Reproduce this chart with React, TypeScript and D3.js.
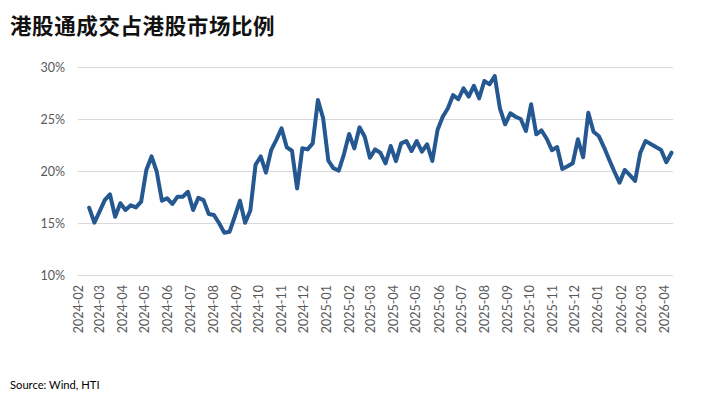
import React, { useRef, useEffect } from 'react';
import * as d3 from 'd3';

// weekly share of southbound turnover in HK market turnover (%)
const startDate = '2024-02-16';
const shareValues = [
  16.47, 15.03, 16.1, 17.2, 17.76, 15.6, 16.9, 16.25, 16.7, 16.5,
  17.05, 20.1, 21.4, 19.93, 17.14, 17.37, 16.83, 17.53, 17.53, 18.0,
  16.25, 17.43, 17.2, 15.87, 15.77, 14.97, 14.07, 14.16, 15.6, 17.14,
  15.03, 16.2, 20.6, 21.4, 19.84, 22.0, 23.0, 24.1, 22.28, 21.95,
  18.33, 22.18, 22.08, 22.66, 26.83, 25.07, 21.0, 20.26, 20.03, 21.6,
  23.56, 22.18, 24.2, 23.3, 21.28, 22.08, 21.76, 20.74, 22.4, 20.95,
  22.66, 22.88, 21.92, 22.88, 21.86, 22.57, 20.96, 23.94, 25.22, 26.03,
  27.3, 26.9, 27.95, 27.15, 28.2, 26.99, 28.65, 28.33, 29.13, 26.03,
  24.49, 25.55, 25.22, 25.0, 23.85, 26.41, 23.53, 23.9, 23.1, 22.0,
  22.3, 20.2, 20.45, 20.74, 23.05, 21.32, 25.6, 23.78, 23.37, 22.3,
  21.1, 19.95, 18.88, 20.1, 19.6, 19.04, 21.76, 22.88, 22.6, 22.3,
  22.02, 20.84, 21.76,
];
const yTicks = [10, 15, 20, 25, 30];
const monthTicks = [
  '2024-02', '2024-03', '2024-04', '2024-05', '2024-06', '2024-07', '2024-08',
  '2024-09', '2024-10', '2024-11', '2024-12', '2025-01', '2025-02', '2025-03',
  '2025-04', '2025-05', '2025-06', '2025-07', '2025-08', '2025-09', '2025-10',
  '2025-11', '2025-12', '2026-01', '2026-02', '2026-03', '2026-04',
];

const title = '港股通成交占港股市场比例';
const source = 'Source: Wind, HTI';

export default function App() {
  const svgRef = useRef<SVGSVGElement>(null);
  const width = 702;
  const height = 399;

  useEffect(() => {
    const svg = d3.select(svgRef.current);
    svg.selectAll('*').remove();

    const parseMonth = d3.timeParse('%Y-%m');
    const start = d3.timeParse('%Y-%m-%d')(startDate) as Date;
    const data = shareValues.map((v, i) => ({ date: d3.timeDay.offset(start, 7 * i), value: v }));

    const x = d3.scaleTime()
      .domain([new Date(2024, 1, 1), new Date(2026, 3, 12)])
      .range([78, 673]);
    const y = d3.scaleLinear().domain([10, 30]).range([275, 67]);

    const font = 'Lato, "Liberation Sans", sans-serif';

    svg.append('text')
      .attr('x', 10)
      .attr('y', 34)
      .style('font-family', '"Noto Sans CJK SC", sans-serif')
      .style('font-weight', 700)
      .style('font-size', '21.5px')
      .style('letter-spacing', '0.6px')
      .attr('fill', '#111')
      .text(title);

    // gridlines
    svg.append('g').selectAll('line')
      .data(yTicks)
      .enter()
      .append('line')
      .attr('x1', 78)
      .attr('x2', 673)
      .attr('y1', d => Math.round(y(d)) + 0.5)
      .attr('y2', d => Math.round(y(d)) + 0.5)
      .attr('stroke', '#d9d9d9')
      .attr('stroke-width', 1);

    // y labels
    svg.append('g').selectAll('text')
      .data(yTicks)
      .enter()
      .append('text')
      .attr('x', 65)
      .attr('y', d => y(d) + 4.5)
      .attr('text-anchor', 'end')
      .style('font-family', font)
      .style('font-size', '12.5px')
      .attr('fill', '#595959')
      .text(d => `${d}%`);

    // x labels
    svg.append('g').selectAll('text')
      .data(monthTicks)
      .enter()
      .append('text')
      .attr('transform', d => `translate(${x(parseMonth(d) as Date) + 4.5}, 285) rotate(-90)`)
      .attr('text-anchor', 'end')
      .style('font-family', font)
      .style('font-size', '12.5px')
      .attr('fill', '#595959')
      .text(d => d);

    const line = d3.line<{ date: Date; value: number }>()
      .x(d => x(d.date))
      .y(d => y(d.value));

    svg.append('path')
      .datum(data)
      .attr('d', line)
      .attr('fill', 'none')
      .attr('stroke', '#255790')
      .attr('stroke-width', 4)
      .attr('stroke-linejoin', 'round')
      .attr('stroke-linecap', 'round');

    svg.append('text')
      .attr('x', 10)
      .attr('y', 389)
      .style('font-family', font)
      .style('font-size', '11.2px')
      .attr('fill', '#000')
      .text(source);
  }, []);

  return (
    <svg
      ref={svgRef}
      width={width}
      height={height}
      style={{ position: 'absolute', left: 0, top: 0, background: '#fff' }}
    />
  );
}
